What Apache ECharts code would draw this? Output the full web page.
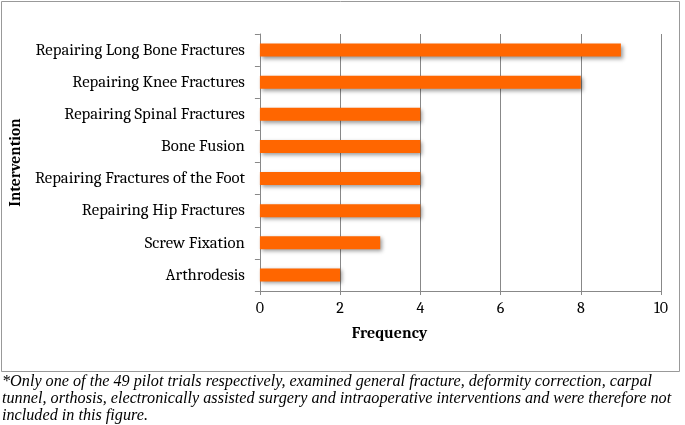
<!DOCTYPE html>
<html>
<head>
<meta charset="utf-8">
<script src="https://cdn.jsdelivr.net/npm/echarts@6/dist/echarts.min.js"></script>
<style>
	html, body { margin: 0; padding: 0; background: #fff; }
	#chart { width: 685px; height: 425px; }
</style>
</head>
<body>
<div id="chart"></div>
<script>
	var interventions = ["Repairing Long Bone Fractures", "Repairing Knee Fractures", "Repairing Spinal Fractures",
		"Bone Fusion", "Repairing Fractures of the Foot", "Repairing Hip Fractures", "Screw Fixation", "Arthrodesis"];
	var frequency = [9, 8, 4, 4, 4, 4, 3, 2];
	var footnoteLines = [
		"*Only one of the 49 pilot trials respectively, examined general fracture, deformity correction, carpal",
		"tunnel, orthosis, electronically assisted surgery and intraoperative interventions and were therefore not",
		"included in this figure."
	];

	var serif = "Cambria, 'DejaVu Serif', 'Liberation Serif', serif";
	var chart = echarts.init(document.getElementById('chart'));
	var option = {
		animation: false,
		grid: {
			left: 259,
			right: 24,
			top: 34,
			height: 257
		},
		xAxis: {
			type: 'value',
			min: 0,
			max: 10,
			interval: 2,
			name: 'Frequency',
			nameLocation: 'middle',
			nameGap: 34,
			nameTextStyle: { fontFamily: serif, fontWeight: 'bold', fontSize: 16, color: '#000', padding: [0, 142, 0, 0] },
			axisLine: { show: true, lineStyle: { color: '#888', width: 1 } },
			axisTick: { show: true, length: 4, lineStyle: { color: '#888' } },
			axisLabel: { fontFamily: serif, fontSize: 16, color: '#000', margin: 9 },
			splitLine: { show: true, lineStyle: { color: '#888', width: 1 } }
		},
		yAxis: {
			type: 'category',
			inverse: true,
			data: interventions,
			name: 'Intervention',
			nameLocation: 'middle',
			nameRotate: 90,
			nameGap: 230,
			nameTextStyle: { fontFamily: serif, fontWeight: 'bold', fontSize: 15.5, color: '#000' },
			axisLine: { show: true, lineStyle: { color: '#888', width: 1 } },
			axisTick: { show: true, length: 5, lineStyle: { color: '#888' } },
			axisLabel: { fontFamily: serif, fontSize: 16.7, color: '#000', margin: 15 }
		},
		series: [{
			type: 'bar',
			data: frequency,
			barWidth: 13,
			itemStyle: {
				color: '#ff6600',
				shadowColor: 'rgba(0,0,0,0.4)',
				shadowBlur: 4,
				shadowOffsetX: 2,
				shadowOffsetY: 2
			}
		}],
		graphic: [{
			type: 'rect',
			shape: { x: 1.5, y: 1.5, width: 678, height: 370 },
			style: { fill: 'none', stroke: '#999', lineWidth: 1 },
			z: -1
		}, {
			type: 'text',
			left: 2,
			top: 373,
			style: {
				text: footnoteLines.join('\n'),
				font: "italic 16.2px 'Liberation Serif', 'Times New Roman', serif",
				lineHeight: 17,
				fill: '#000'
			}
		}]
	};
	chart.setOption(option);
</script>
</body>
</html>
